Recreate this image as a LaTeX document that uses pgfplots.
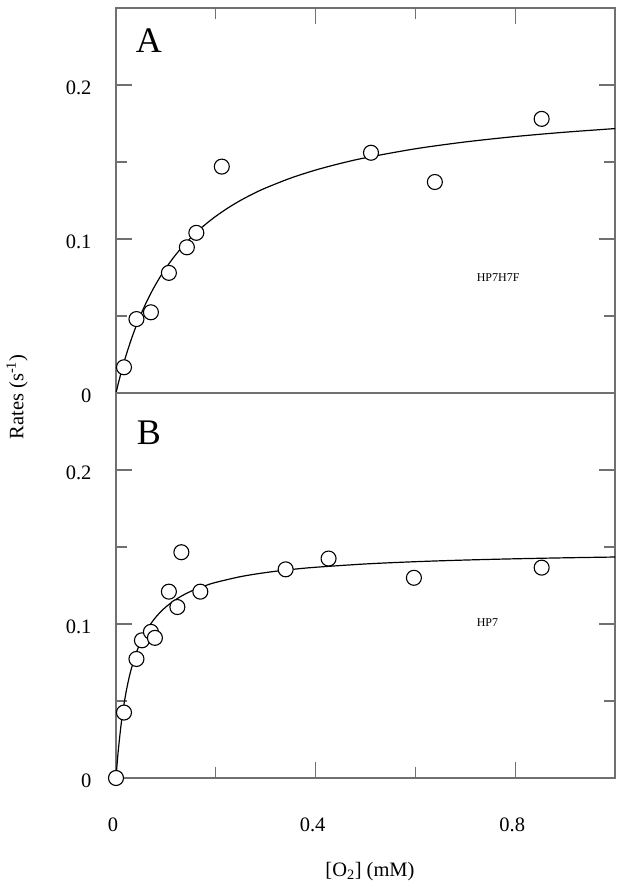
\documentclass[border=0pt]{standalone}
\usepackage{fontspec}
\setmainfont{Liberation Serif}
\usepackage{pgfplots}
\pgfplotsset{compat=1.18}
\definecolor{framegray}{RGB}{112,112,112}

\pgfplotsset{
  o2panel/.style={
    scale only axis, width=499pt, height=385pt,
    xmin=0, xmax=1, ymin=0, ymax=0.25,
    clip=false,
    axis line style={framegray, line width=1.3pt},
    tick style={framegray, line width=1.3pt},
    tick align=inside,
    major tick length=16pt, minor tick length=11pt,
    xtick={0,0.4,0.8}, minor xtick={0.2,0.6},
    ytick={0,0.1,0.2}, minor ytick={0.05,0.15},
    ytick pos=both,
    /pgf/number format/assume math mode=true,
    tick label style={font=\fontsize{20.5}{24}\selectfont},
    yticklabel style={xshift=-21pt, yshift=-3pt},
  },
  fitline/.style={black, line width=1.2pt, no marks, smooth},
  datapts/.style={only marks, mark=*, mark size=7.5pt,
    mark options={draw=black, fill=white, line width=1.1pt}},
}

\begin{document}
\begin{tikzpicture}
\path[use as bounding box] (0,0) rectangle (624pt,888pt);

% panel A: HP7H7F
\begin{axis}[o2panel, at={(116pt,495pt)}, anchor=south west,
  xtick pos=top, xticklabels={}]
\addplot[fitline] coordinates {
(0,0) (0.005,0.00668) (0.01,0.01293) (0.015,0.01877) (0.02,0.02426)
(0.03,0.03427) (0.04,0.04317) (0.05,0.05115) (0.06,0.05833)
(0.07,0.06484) (0.08,0.07076) (0.09,0.07617) (0.10,0.08113)
(0.115,0.08784) (0.13,0.09382) (0.145,0.09916) (0.16,0.10398)
(0.18,0.10970) (0.20,0.11475) (0.225,0.12030) (0.25,0.12513)
(0.275,0.12938) (0.30,0.13315) (0.35,0.13954) (0.40,0.14476)
(0.45,0.14909) (0.50,0.15274) (0.60,0.15858) (0.70,0.16302)
(0.80,0.16653) (0.90,0.16935) (1.00,0.17169)
};
\addplot[datapts] coordinates {
(0.016,0.0167) (0.041,0.048) (0.070,0.0524) (0.106,0.078)
(0.142,0.0946) (0.161,0.104) (0.212,0.147) (0.511,0.156)
(0.639,0.137) (0.853,0.178)
};
\node[font=\fontsize{36}{40}\selectfont] at (axis description cs:0.066,0.916) {A};
\node[anchor=west, font=\fontsize{12}{14}\selectfont] at (axis description cs:0.716,0.299) {HP7H7F};
\end{axis}

% panel B: HP7
\begin{axis}[o2panel, at={(116pt,110pt)}, anchor=south west,
  xtick pos=bottom,
  xticklabel style={yshift=-36pt, xshift=-3pt},
  xlabel={[O\textsubscript{2}] (mM)},
  xlabel style={at={(axis description cs:0.509,0)}, anchor=base,
    yshift=-98pt, font=\fontsize{20.5}{24}\selectfont}]
\addplot[fitline] coordinates {
(0,0) (0.0025,0.01030) (0.005,0.01926) (0.01,0.03409) (0.015,0.04587)
(0.02,0.05544) (0.025,0.06338) (0.03,0.07006) (0.04,0.08071)
(0.05,0.08880) (0.06,0.09517) (0.07,0.10030) (0.08,0.10453)
(0.09,0.10807) (0.10,0.11109) (0.115,0.11485) (0.13,0.11792)
(0.145,0.12047) (0.16,0.12263) (0.18,0.12503) (0.20,0.12702)
(0.25,0.13078) (0.30,0.13340) (0.35,0.13535) (0.40,0.13684)
(0.50,0.13899) (0.60,0.14046) (0.70,0.14153) (0.80,0.14234)
(0.90,0.14298) (1.00,0.14349)
};
\addplot[datapts] coordinates {
(0,0) (0.016,0.0425) (0.041,0.0773) (0.052,0.0894) (0.070,0.0949)
(0.078,0.091) (0.106,0.121) (0.123,0.111) (0.131,0.1466)
(0.169,0.121) (0.340,0.1355) (0.426,0.1425) (0.597,0.130)
(0.853,0.1366)
};
\node[font=\fontsize{36}{40}\selectfont] at (axis description cs:0.066,0.896) {B};
\node[anchor=west, font=\fontsize{12}{14}\selectfont] at (axis description cs:0.716,0.404) {HP7};
\end{axis}

\node[rotate=90, font=\fontsize{20.5}{24}\selectfont] at (17pt,491pt) {Rates (s\textsuperscript{-1})};
\end{tikzpicture}
\end{document}
